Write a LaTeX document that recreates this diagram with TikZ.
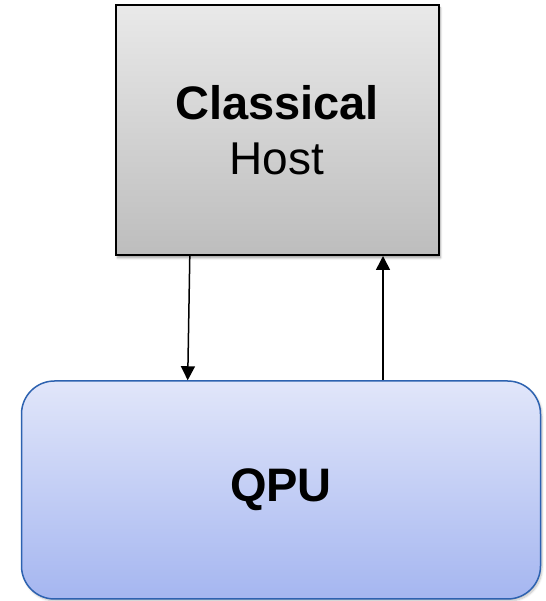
\documentclass[tikz,border=0pt]{standalone}
\usepackage{fontspec}
\setmainfont{Liberation Sans}
\usetikzlibrary{arrows.meta,shadows.blur}
\definecolor{hosttop}{HTML}{E9E9E9}
\definecolor{hostbot}{HTML}{BDBDBD}
\definecolor{qputop}{HTML}{E1E6FA}
\definecolor{qpubot}{HTML}{A5B6F0}
\definecolor{qpuedge}{HTML}{2D62B0}
\tikzset{
  hostbox/.style={draw=black, line width=2pt, top color=hosttop, bottom color=hostbot,
    minimum width=323pt, minimum height=250pt, inner sep=0pt, align=center,
    blur shadow={shadow xshift=2pt, shadow yshift=-3pt, shadow blur steps=6, shadow opacity=35}},
  qpubox/.style={draw=qpuedge, line width=1.5pt, top color=qputop, bottom color=qpubot,
    rounded corners=33pt, minimum width=519pt, minimum height=218pt, inner sep=0pt,
    blur shadow={shadow xshift=1.5pt, shadow yshift=-2pt, shadow blur steps=6, shadow opacity=25}},
  conn/.style={line width=1.5pt, -{Triangle[length=14pt,width=14pt]}},
  bigtext/.style={font=\fontsize{47}{55}\selectfont}
}
\begin{document}
\begin{tikzpicture}[x=1pt,y=1pt]
\useasboundingbox (0,0) rectangle (545,601);
\node[hostbox, bigtext] (host) at (277,471) {\textbf{Classical}\\{\fontsize{46}{55}\selectfont Host}};
\node[qpubox, bigtext] (qpu) at (281,111) {\textbf{QPU}};
\draw[conn] ([xshift=-87.2pt]host.south) -- ([xshift=-93.3pt]qpu.north);
\draw[conn] ([xshift=102pt]qpu.north) -- ([xshift=106pt]host.south);
\end{tikzpicture}
\end{document}
